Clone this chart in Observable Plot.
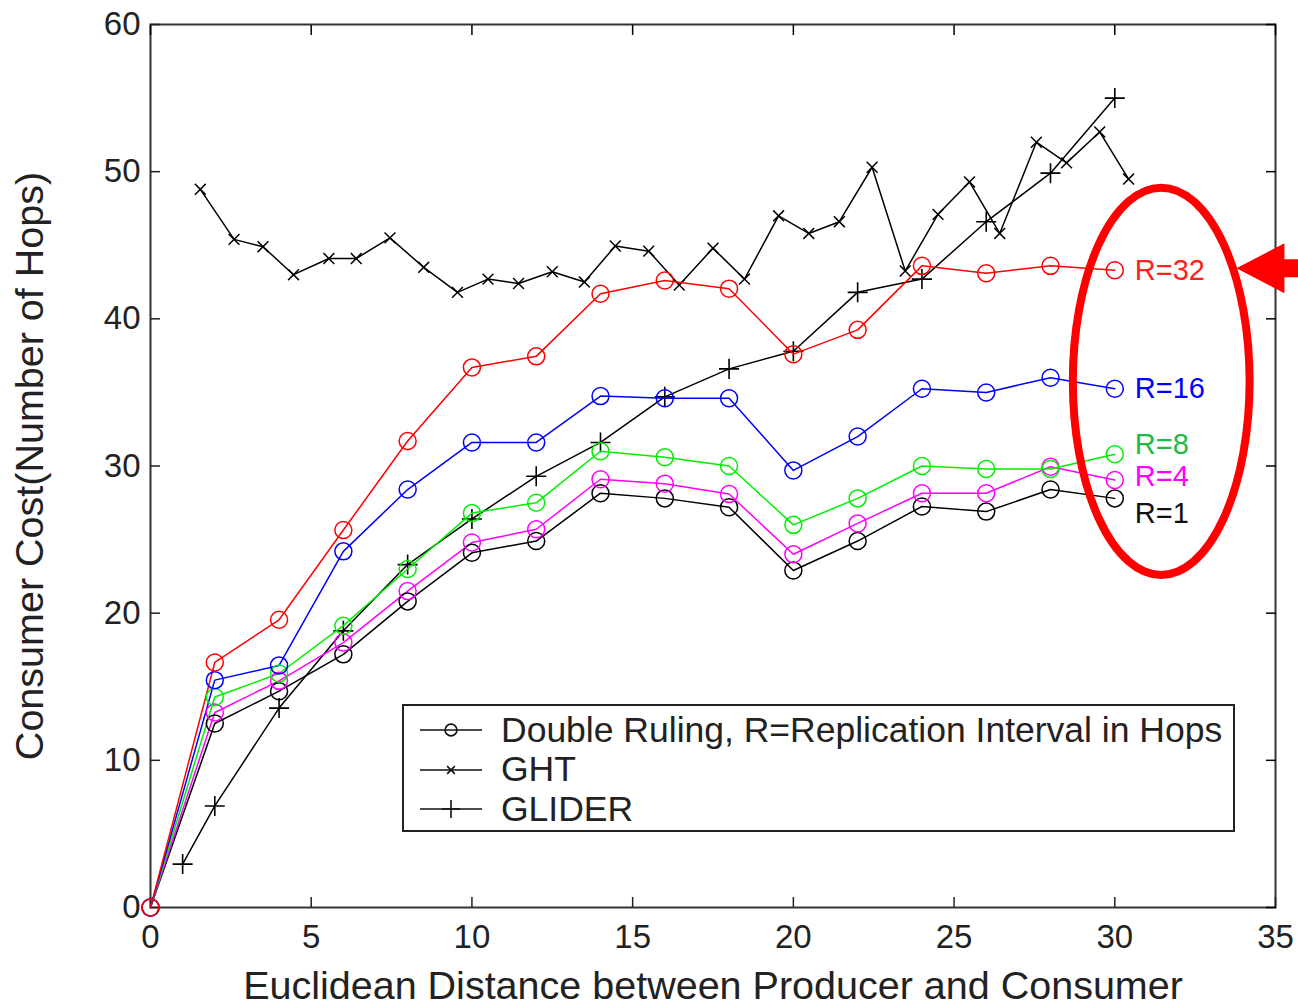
<!DOCTYPE html>
<html>
<head>
<meta charset="utf-8">
<script src="https://cdn.jsdelivr.net/npm/d3@7"></script>
<script src="https://cdn.jsdelivr.net/npm/@observablehq/plot@0.6"></script>
<style>
  body { margin: 0; background: #fff; }
  #wrap { position: relative; width: 1298px; height: 1008px; overflow: hidden; font-family: "Liberation Sans", Arial, sans-serif; }
  #legend { position: absolute; left: 402px; top: 704px; width: 829px; height: 124px; border: 2px solid #222; background: #fff; }
  .row { position: absolute; left: 0; height: 40px; display: flex; align-items: center; }
  .row svg { display: block; }
  .row span { font-size: 35.5px; color: #222; margin-left: 17px; white-space: nowrap; }
</style>
</head>
<body>
<div id="wrap"></div>
<script>
// ---- data ----
const drX = [0, 2, 4, 6, 8, 10, 12, 14, 16, 18, 20, 22, 24, 26, 28, 30];
const r1Y  = [0, 12.5, 14.7, 17.2, 20.8, 24.1, 24.9, 28.15, 27.8, 27.2, 22.9, 24.9, 27.25, 26.9, 28.4, 27.8];
const r4Y  = [0, 13.25, 15.4, 18.0, 21.5, 24.8, 25.7, 29.1, 28.8, 28.1, 24.0, 26.1, 28.15, 28.15, 29.95, 29.05];
const r8Y  = [0, 14.3, 15.9, 19.15, 23.0, 26.8, 27.5, 31.0, 30.6, 30.0, 26.0, 27.8, 30.0, 29.8, 29.8, 30.8];
const r16Y = [0, 15.45, 16.45, 24.2, 28.4, 31.6, 31.6, 34.75, 34.6, 34.6, 29.7, 32.0, 35.25, 35.0, 36.0, 35.25];
const r32Y = [0, 16.65, 19.55, 25.65, 31.7, 36.7, 37.45, 41.7, 42.6, 42.05, 37.6, 39.25, 43.6, 43.1, 43.6, 43.3];

const gliderX = [1, 2, 4, 6, 8, 10, 12, 14, 16, 18, 20, 22, 24, 26, 28, 30];
const gliderY = [2.95, 6.9, 13.55, 18.8, 23.3, 26.4, 29.3, 31.6, 34.7, 36.6, 37.8, 41.8, 42.7, 46.6, 49.9, 55.0];

const ghtX = [1.55, 2.6, 3.5, 4.45, 5.55, 6.4, 7.45, 8.5, 9.55, 10.5, 11.45, 12.5, 13.5, 14.46, 15.5,
              16.45, 17.5, 18.48, 19.54, 20.48, 21.43, 22.45, 23.48, 24.5, 25.48, 26.42, 27.56, 28.5, 29.53, 30.43];
const ghtY = [48.8, 45.4, 44.9, 43.0, 44.1, 44.1, 45.5, 43.5, 41.8, 42.7, 42.4, 43.2, 42.5, 44.95, 44.6,
              42.3, 44.8, 42.7, 47.0, 45.8, 46.6, 50.3, 43.25, 47.1, 49.3, 45.8, 52.0, 50.6, 52.7, 49.5];

const seriesNames  = ["R=1", "R=4", "R=8", "R=16", "R=32"];
const seriesY      = [r1Y, r4Y, r8Y, r16Y, r32Y];
const seriesColors = ["#000000", "#ff00ff", "#00ee00", "#0000ff", "#ff0000"];
const labelColors  = ["#111111", "#ff00ff", "#1dbb45", "#0000ff", "#ff2020"];
const labelDy      = [15, -3, -10, 0, 0];

const xTicks = [0, 5, 10, 15, 20, 25, 30, 35];
const yTicks = [0, 10, 20, 30, 40, 50, 60];

const xLabel = "Euclidean Distance between Producer and Consumer";
const yLabel = "Consumer Cost(Number of Hops)";
const legendLabels = ["Double Ruling, R=Replication Interval in Hops", "GHT", "GLIDER"];

// annotation (data units)
const ellipseSpec = {cx: 31.46, cy: 35.72, rx: 2.75, ry: 13.16};
const arrowTip = {x: 33.8, y: 43.4};

// ---- tables ----
const drRows = seriesNames.flatMap((s, i) => drX.map((x, j) => ({series: s, i, x, y: seriesY[i][j]})));
const gliderRows = gliderX.map((x, j) => ({x, y: gliderY[j]}));
const ghtRows = ghtX.map((x, j) => ({x, y: ghtY[j]}));
const lastRows = seriesNames.map((s, i) => ({series: s, i, x: drX[drX.length - 1], y: seriesY[i][drX.length - 1]}));

const ink = "#222";
const font = "Liberation Sans, Arial, sans-serif";

function annotation(index, scales) {
  const sx = scales.x, sy = scales.y;
  const g = d3.create("svg:g");
  const cx = sx(ellipseSpec.cx), cy = sy(ellipseSpec.cy);
  const rx = sx(ellipseSpec.cx + ellipseSpec.rx) - cx;
  const ry = sy(ellipseSpec.cy - ellipseSpec.ry) - cy;
  g.append("ellipse").attr("cx", cx).attr("cy", cy).attr("rx", rx).attr("ry", ry)
    .attr("fill", "none").attr("stroke", "#ff0000").attr("stroke-width", 8);
  const tx = sx(arrowTip.x), ty = sy(arrowTip.y);
  g.append("path")
    .attr("d", `M${tx},${ty} L${tx + 48},${ty - 25} L${tx + 48},${ty - 9} L${tx + 80},${ty - 9} L${tx + 80},${ty + 9} L${tx + 48},${ty + 9} L${tx + 48},${ty + 25} Z`)
    .attr("fill", "#ff0000");
  return g.node();
}

const marks = [
  Plot.frame({stroke: "#333", strokeWidth: 2}),
  Plot.axisX({ticks: xTicks, anchor: "bottom", tickSize: -10, tickPadding: 27, fontSize: 33, label: null, color: ink, strokeWidth: 1.5}),
  Plot.axisX({ticks: xTicks, anchor: "top", tickSize: -10, tickFormat: () => "", label: null, strokeWidth: 1.5}),
  Plot.axisY({ticks: yTicks, anchor: "left", tickSize: -10, tickPadding: 20, fontSize: 33, label: null, color: ink, strokeWidth: 1.5}),
  Plot.axisY({ticks: yTicks, anchor: "right", tickSize: -10, tickFormat: () => "", label: null, strokeWidth: 1.5}),
  Plot.text([xLabel], {text: d => d, frameAnchor: "bottom", dy: 79, fontSize: 39.5, fill: ink, lineAnchor: "middle", textAnchor: "middle"}),
  Plot.text([yLabel], {text: d => d, frameAnchor: "left", dx: -120, rotate: -90, fontSize: 39.5, fill: ink, lineAnchor: "middle", textAnchor: "middle"}),
  // GHT
  Plot.line(ghtRows, {x: "x", y: "y", stroke: "#000", strokeWidth: 1.5}),
  Plot.dot(ghtRows, {x: "x", y: "y", symbol: "times", r: 5, stroke: "#000", strokeWidth: 1.5}),
  // GLIDER
  Plot.line(gliderRows, {x: "x", y: "y", stroke: "#000", strokeWidth: 1.5}),
  Plot.dot(gliderRows, {x: "x", y: "y", symbol: "plus", r: 6.5, stroke: "#000", strokeWidth: 1.6}),
  // Double ruling
  Plot.line(drRows, {x: "x", y: "y", z: "series", stroke: d => seriesColors[d.i], strokeWidth: 1.5}),
  Plot.dot(drRows, {x: "x", y: "y", r: 8.5, stroke: d => seriesColors[d.i], strokeWidth: 1.5, fill: "none"}),
  ...lastRows.map((row, i) => Plot.text([row], {x: "x", y: "y", text: "series", dx: 20, dy: labelDy[i],
    textAnchor: "start", fontSize: 29, fill: labelColors[i]})),
  annotation
];

const chart = Plot.plot({
  width: 1298,
  height: 1008,
  marginLeft: 150,
  marginRight: 23,
  marginTop: 24,
  marginBottom: 101,
  x: {domain: [0, 35]},
  y: {domain: [0, 60]},
  color: {type: "identity"},
  style: {fontFamily: font, background: "#fff", overflow: "visible"},
  marks
});

const wrap = document.getElementById("wrap");
wrap.appendChild(chart);

// legend
const legend = document.createElement("div");
legend.id = "legend";
wrap.appendChild(legend);
const legendSymbols = [d3.symbolCircle, d3.symbolTimes, d3.symbolPlus];
const legendSizes = [110, 40, 110];
legendLabels.forEach((lab, i) => {
  const row = document.createElement("div");
  row.className = "row";
  row.style.top = (4 + i * 39.5) + "px";
  const s = d3.create("svg").attr("width", 80).attr("height", 40);
  s.append("line").attr("x1", 16).attr("x2", 78).attr("y1", 20).attr("y2", 20).attr("stroke", "#111").attr("stroke-width", 1.6);
  s.append("path").attr("d", d3.symbol(legendSymbols[i], legendSizes[i])()).attr("transform", "translate(47,20)")
    .attr("fill", "none").attr("stroke", "#111").attr("stroke-width", 1.6);
  row.appendChild(s.node());
  const sp = document.createElement("span");
  sp.textContent = lab;
  row.appendChild(sp);
  legend.appendChild(row);
});
</script>
</body>
</html>
